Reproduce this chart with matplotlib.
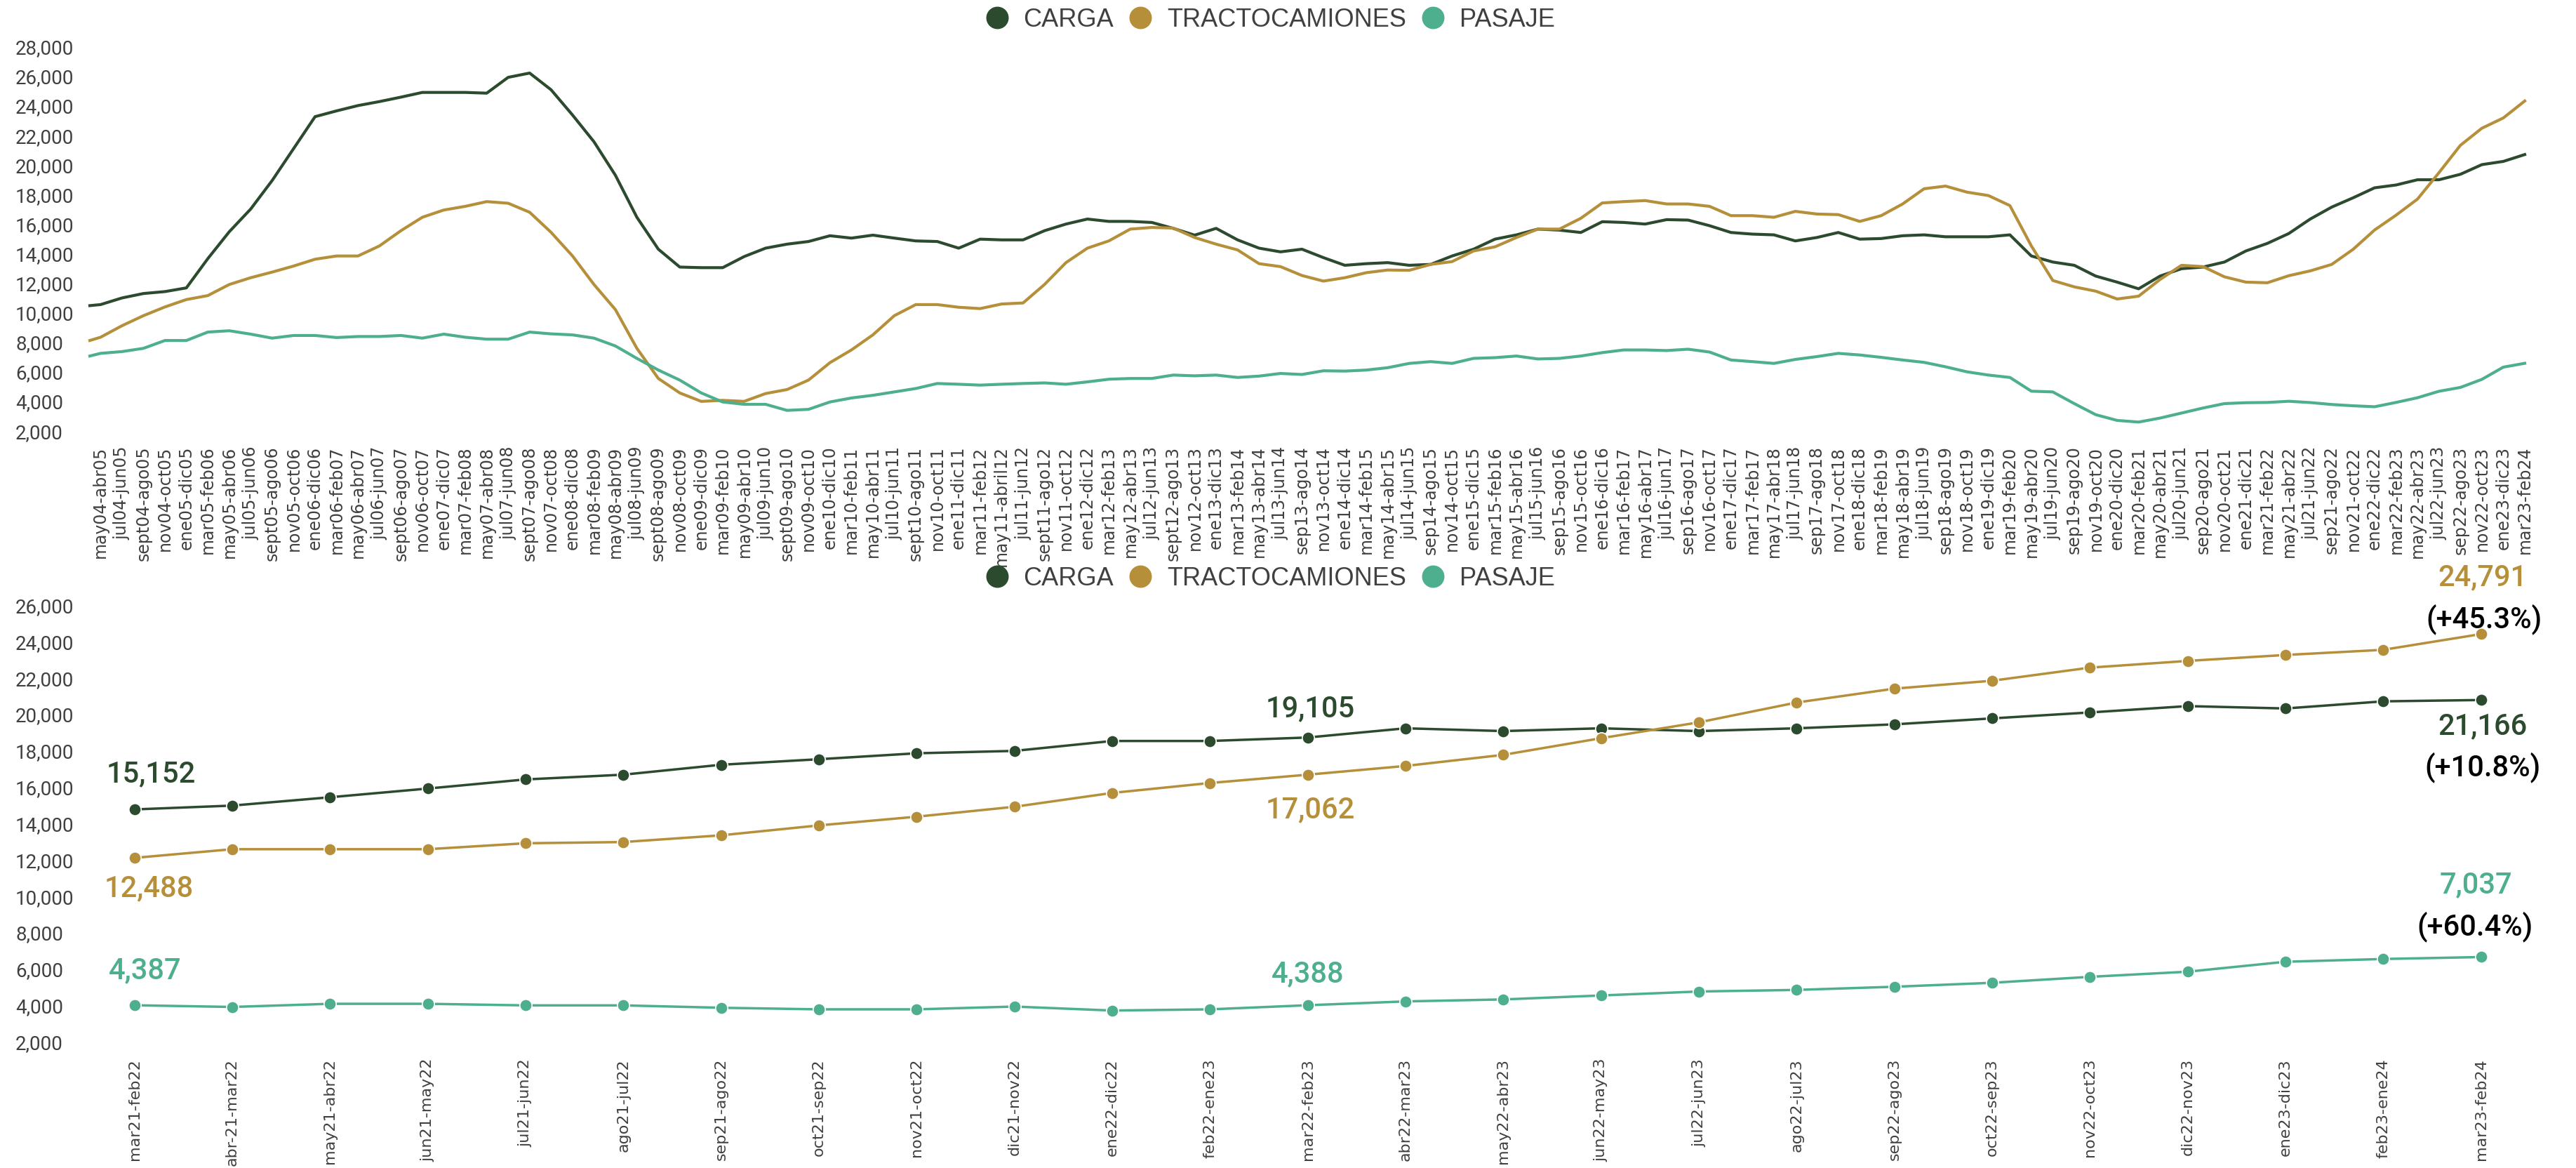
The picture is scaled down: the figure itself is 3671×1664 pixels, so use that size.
import numpy as np
import matplotlib.pyplot as plt
from matplotlib.lines import Line2D

W, H = 3671, 1665

# colores por tipo de permiso
C_CARGA = "#2b4a2e"
C_TRACTO = "#b58f3a"
C_PASAJE = "#4daf8d"
C_TEXTO = "#404040"

series = ["CARGA", "TRACTOCAMIONES", "PASAJE"]

# --- historico: ventanas moviles de 12 meses (abr04-mar05 ... mar23-feb24), etiqueta cada dos meses
etiquetas_hist = [
    "may04-abr05", "jul04-jun05", "sept04-ago05", "nov04-oct05", "ene05-dic05", "mar05-feb06",
    "may05-abr06", "jul05-jun06", "sept05-ago06", "nov05-oct06", "ene06-dic06", "mar06-feb07",
    "may06-abr07", "jul06-jun07", "sept06-ago07", "nov06-oct07", "ene07-dic07", "mar07-feb08",
    "may07-abr08", "jul07-jun08", "sept07-ago08", "nov07-oct08", "ene08-dic08", "mar08-feb09",
    "may08-abr09", "jul08-jun09", "sept08-ago09", "nov08-oct09", "ene09-dic09", "mar09-feb10",
    "may09-abr10", "jul09-jun10", "sept09-ago10", "nov09-oct10", "ene10-dic10", "mar10-feb11",
    "may10-abr11", "jul10-jun11", "sept10-ago11", "nov10-oct11", "ene11-dic11", "mar11-feb12",
    "may11-abril12", "jul11-jun12", "sept11-ago12", "nov11-oct12", "ene12-dic12", "mar12-feb13",
    "may12-abr13", "jul12-jun13", "sept12-ago13", "nov12-oct13", "ene13-dic13", "mar13-feb14",
    "may13-abr14", "jul13-jun14", "sep13-ago14", "nov13-oct14", "ene14-dic14", "mar14-feb15",
    "may14-abr15", "jul14-jun15", "sep14-ago15", "nov14-oct15", "ene15-dic15", "mar15-feb16",
    "may15-abr16", "jul15-jun16", "sep15-ago16", "nov15-oct16", "ene16-dic16", "mar16-feb17",
    "may16-abr17", "jul16-jun17", "sep16-ago17", "nov16-oct17", "ene17-dic17", "mar17-feb17",
    "may17-abr18", "jul17-jun18", "sep17-ago18", "nov17-oct18", "ene18-dic18", "mar18-feb19",
    "may18-abr19", "jul18-jun19", "sep18-ago19", "nov18-oct19", "ene19-dic19", "mar19-feb20",
    "may19-abr20", "jul19-jun20", "sep19-ago20", "nov19-oct20", "ene20-dic20", "mar20-feb21",
    "may20-abr21", "jul20-jun21", "sep20-ago21", "nov20-oct21", "ene21-dic21", "mar21-feb22",
    "may21-abr22", "jul21-jun22", "sep21-ago22", "nov21-oct22", "ene22-dic22", "mar22-feb23",
    "may22-abr23", "jul22-jun23", "sep22-ago23", "nov22-oct23", "ene23-dic23", "mar23-feb24",
]
# primer valor = abr04-mar05 (sin etiqueta), luego uno por etiqueta
carga_hist = [
    10940, 11010, 11460, 11760, 11890, 12140, 14120, 15940, 17480, 19410, 21570, 23730,
    24120, 24480, 24750, 25050, 25370, 25370, 25370, 25320, 26390, 26680, 25550,
    23840, 22030, 19760, 16920, 14760, 13550, 13510, 13510, 14260, 14830, 15100, 15280,
    15670, 15510, 15710, 15510, 15320, 15280, 14830, 15440, 15390, 15390, 16010,
    16460, 16800, 16640, 16640, 16570, 16170, 15710, 16170, 15390, 14830, 14580, 14760,
    14190, 13670, 13780, 13850, 13670, 13730, 14300, 14760, 15440, 15730, 16120,
    16050, 15890, 16620, 16570, 16460, 16760, 16730, 16350, 15890, 15780, 15730, 15320,
    15550, 15890, 15440, 15480, 15670, 15730, 15600, 15600, 15600, 15730, 14300,
    13890, 13670, 12940, 12530, 12080, 12940, 13440, 13550, 13890, 14640,
    15152, 15820, 16800, 17607, 18238, 18914, 19105, 19459, 19459, 19829, 20483, 20701, 21166,
]
tracto_hist = [
    8580, 8800, 9580, 10260, 10850, 11350, 11620, 12370, 12830, 13210, 13620, 14080,
    14300, 14300, 14980, 16010, 16920, 17410, 17660, 17980, 17870, 17260, 15900,
    14300, 12370, 10670, 8050, 6010, 5030, 4460, 4530, 4460, 4990, 5260, 5900,
    7080, 7940, 8960, 10260, 11010, 11010, 10830, 10740, 11050, 11120, 12370,
    13850, 14830, 15320, 16120, 16230, 16190, 15550, 15100, 14710, 13780, 13580, 12980,
    12600, 12830, 13170, 13350, 13330, 13730, 13920, 14640, 14920, 15550, 16120,
    16120, 16850, 17890, 17980, 18050, 17820, 17820, 17660, 17030, 17030, 16920, 17320,
    17140, 17100, 16640, 17030, 17820, 18850, 19030, 18620, 18390, 17710, 14980,
    12640, 12210, 11920, 11390, 11580, 12710, 13670, 13580, 12890, 12530,
    12488, 12965, 13292, 13728, 14752, 16059, 17062, 18151, 19938, 21791, 22946, 23642, 24791,
]
pasaje_hist = [
    7530, 7710, 7830, 8050, 8580, 8580, 9150, 9240, 9010, 8740, 8920, 8920,
    8780, 8850, 8850, 8920, 8740, 9010, 8800, 8670, 8670, 9150, 9030,
    8960, 8740, 8210, 7370, 6580, 5900, 5030, 4420, 4260, 4260, 3850, 3920,
    4420, 4690, 4870, 5100, 5330, 5670, 5620, 5560, 5620, 5670, 5710,
    5620, 5780, 5960, 6010, 6010, 6240, 6190, 6240, 6080, 6170, 6350, 6280,
    6530, 6510, 6580, 6740, 7030, 7150, 7030, 7370, 7420, 7530, 7330,
    7370, 7530, 7760, 7940, 7940, 7900, 7990, 7800, 7260, 7150, 7030, 7300,
    7490, 7710, 7600, 7440, 7260, 7100, 6800, 6460, 6240, 6080, 5150,
    5100, 4310, 3560, 3170, 3060, 3330, 3670, 4010, 4310, 4370,
    4387, 4467, 4380, 4249, 4162, 4097, 4388, 4707, 5143, 5404, 5949, 6777, 7037,
]

# --- ultimos 25 meses
etiquetas_rec = [
    "mar21-feb22", "abr-21-mar22", "may21-abr22", "jun21-may22", "jul21-jun22", "ago21-jul22",
    "sep21-ago22", "oct21-sep22", "nov21-oct22", "dic21-nov22", "ene22-dic22", "feb22-ene23",
    "mar22-feb23", "abr22-mar23", "may22-abr23", "jun22-may23", "jul22-jun23", "ago22-jul23",
    "sep22-ago23", "oct22-sep23", "nov22-oct23", "dic22-nov23", "ene23-dic23", "feb23-ene24",
    "mar23-feb24",
]
carga_rec = [15152, 15362, 15820, 16299, 16800, 17062, 17607, 17911, 18238, 18369, 18914, 18914,
             19105, 19611, 19459, 19611, 19459, 19611, 19829, 20156, 20483, 20831, 20701, 21093, 21166]
tracto_rec = [12488, 12965, 12965, 12965, 13292, 13358, 13728, 14273, 14752, 15297, 16059, 16604,
              17062, 17541, 18151, 19066, 19938, 21028, 21791, 22226, 22946, 23316, 23642, 23926, 24791]
pasaje_rec = [4387, 4293, 4467, 4467, 4380, 4380, 4249, 4162, 4162, 4315, 4097, 4162,
              4388, 4598, 4707, 4925, 5143, 5230, 5404, 5622, 5949, 6232, 6777, 6930, 7037]

NUM_FONT = ["Roboto", "DejaVu Sans"]
LAB_FONT = ["DejaVu Sans"]

fig = plt.figure(figsize=(W / 100, H / 100), dpi=100)


def px_box(left, top, right, bottom):
    return [left / W, 1 - bottom / H, (right - left) / W, (bottom - top) / H]


def estilo_ejes(ax, ylo, yhi, pad_px, xlabsize, xpad_px):
    ax.set_ylim(ylo, yhi)
    ax.set_yticks(np.arange(ylo, yhi + 1, 2000))
    ax.set_yticklabels([f"{v:,}" for v in range(ylo, yhi + 1, 2000)])
    for s in ax.spines.values():
        s.set_visible(False)
    ax.tick_params(axis="y", length=0, pad=pad_px * 0.72, labelsize=20, labelcolor=C_TEXTO)
    ax.tick_params(axis="x", length=0, pad=xpad_px * 0.72, labelsize=xlabsize, labelcolor=C_TEXTO)
    for t in ax.get_yticklabels():
        t.set_ha("left")
        t.set_va("baseline")
        t.set_family(NUM_FONT)
    for t in ax.get_xticklabels():
        t.set_family(LAB_FONT)


def leyenda(y_px):
    handles = [Line2D([], [], ls="", marker="o", ms=22, color=c, mec=c)
               for c in (C_CARGA, C_TRACTO, C_PASAJE)]
    fig.legend(handles, series, loc="center", bbox_to_anchor=(1810 / W, 1 - y_px / H),
               ncol=3, frameon=False, handlelength=0.9, handletextpad=0.6, columnspacing=0.6,
               prop={"family": "Liberation Sans", "size": 26}, labelcolor=C_TEXTO)


# --- panel superior
ax1 = fig.add_axes(px_box(128, 77.3, 3598, 624.6))
meses = np.r_[0, np.arange(1, 228, 2)]
for vals, c in zip((carga_hist, tracto_hist, pasaje_hist), (C_CARGA, C_TRACTO, C_PASAJE)):
    ax1.plot(meses, vals, color=c, lw=3.0, solid_joinstyle="round", clip_on=False)
ax1.set_xlim(0, 227)
ax1.set_xticks(np.arange(1, 228, 2))
ax1.set_xticklabels(etiquetas_hist, rotation=90, va="top", ha="center")
estilo_ejes(ax1, 2000, 28000, 128 - 22, 17, 11)
leyenda(29)

# --- panel inferior
ax2 = fig.add_axes(px_box(191.5, 873, 3535.6, 1495))
x = np.arange(len(etiquetas_rec))
for vals, c in zip((carga_rec, tracto_rec, pasaje_rec), (C_CARGA, C_TRACTO, C_PASAJE)):
    ax2.plot(x, vals, color=c, lw=2.5, marker="o", ms=12.5, mec="white", mew=1.2,
             clip_on=False, zorder=3)
ax2.set_xlim(0, len(x) - 1)
ax2.set_xticks(x)
ax2.set_xticklabels(etiquetas_rec, rotation=90, va="top", ha="center")
estilo_ejes(ax2, 2000, 26000, 191.5 - 22, 16, 13)
leyenda(825)


def etiqueta(i, vals, dx, dy, color, texto=None, size=30):
    ax2.annotate(texto if texto else f"{vals[i]:,}", (i, vals[i]), xytext=(dx, dy),
                 textcoords="offset points", ha="center", va="center", color=color,
                 fontsize=size, family=NUM_FONT, fontweight="medium")


ini, med, fin = 0, 12, len(x) - 1
etiqueta(ini, carga_rec, 17, 37, C_CARGA)
etiqueta(ini, tracto_rec, 15, -31, C_TRACTO)
etiqueta(ini, pasaje_rec, 11, 36, C_PASAJE)
etiqueta(med, carga_rec, 3, 30, C_CARGA)
etiqueta(med, tracto_rec, 3, -35, C_TRACTO)
etiqueta(med, pasaje_rec, 0, 33, C_PASAJE)
etiqueta(fin, tracto_rec, 2, 59, C_TRACTO)
etiqueta(fin, carga_rec, 2, -26, C_CARGA)
etiqueta(fin, pasaje_rec, -5, 75, C_PASAJE)

# variacion anual respecto a mar22-feb23
for vals, dx, dy in ((tracto_rec, 3, 16), (carga_rec, 2, -68), (pasaje_rec, -6, 32)):
    var = (vals[fin] / vals[med] - 1) * 100
    etiqueta(fin, vals, dx, dy, "black", texto=f"(+{var:.1f}%)")

fig.savefig("out.png", dpi=100)
